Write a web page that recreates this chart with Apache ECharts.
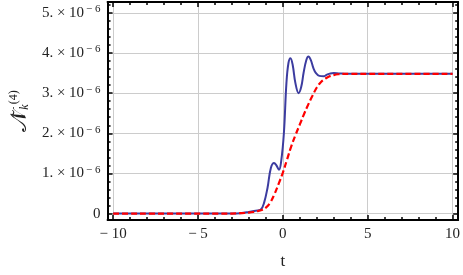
<!DOCTYPE html>
<html><head><meta charset="utf-8">
<script src="https://cdn.jsdelivr.net/npm/echarts@6/dist/echarts.min.js"></script>
<style>html,body{margin:0;padding:0;background:#fff}#c{width:463px;height:275px}</style>
</head><body><div id="c"></div>
<script>
// values in units of 1e-6
const tBlue = [-10, -3, -2.5, -2, -1.6, -1.3, -1.1, -0.9, -0.71, -0.52, -0.38, -0.23, -0.1, 0.06, 0.21, 0.33, 0.45, 0.58, 0.74, 0.93, 1.08, 1.22, 1.38, 1.51, 1.65, 1.80, 1.95, 2.15, 2.4, 2.6, 2.8, 3.0, 3.3, 3.8, 5, 10];
const vBlue = [0, 0, 0.01, 0.04, 0.07, 0.1, 0.28, 0.65, 1.13, 1.26, 1.2, 1.09, 1.3, 2.0, 3.25, 3.75, 3.87, 3.7, 3.25, 3.0, 3.15, 3.5, 3.82, 3.91, 3.82, 3.62, 3.5, 3.43, 3.42, 3.46, 3.49, 3.5, 3.49, 3.48, 3.48, 3.48];
const tRed = [-10, -3, -2.5, -2.25, -2, -1.75, -1.5, -1.25, -1, -0.75, -0.5, -0.25, 0, 0.25, 0.5, 0.75, 1, 1.25, 1.5, 1.75, 2, 2.25, 2.5, 2.75, 3, 3.25, 3.5, 4, 5, 10];
const vRed = [0, 0, 0.01, 0.015, 0.025, 0.04, 0.06, 0.09, 0.15, 0.27, 0.48, 0.74, 1.02, 1.35, 1.68, 1.96, 2.22, 2.48, 2.72, 2.94, 3.14, 3.28, 3.36, 3.42, 3.45, 3.47, 3.48, 3.48, 3.48, 3.48];
const xMajorTicks = [-10, -5, 0, 5, 10];
const xMinorTicks = [-10, -9, -8, -7, -6, -5, -4, -3, -2, -1, 0, 1, 2, 3, 4, 5, 6, 7, 8, 9, 10];
const yMajorTicks = [0, 1, 2, 3, 4, 5];
const yMinorTicks = [0, 0.2, 0.4, 0.6, 0.8, 1, 1.2, 1.4, 1.6, 1.8, 2, 2.2, 2.4, 2.6, 2.8, 3, 3.2, 3.4, 3.6, 3.8, 4, 4.2, 4.4, 4.6, 4.8, 5, 5.2];
const yExponent = '− 6';
const xName = 't';

const FONT = 'Liberation Serif';
const TXT = '#222';
const X_RANGE = [-10.33, 10.33];
const Y_RANGE = [-0.16, 5.27];

function xAxis(position, ticks, len, major) {
  return {
    type: 'value', position, min: X_RANGE[0], max: X_RANGE[1], gridIndex: 0,
    name: (major && position === 'bottom') ? xName : '',
    nameLocation: 'middle', nameGap: 33,
    nameTextStyle: {fontFamily: FONT, fontSize: 17, color: TXT},
    axisLine: {show: major, onZero: false, lineStyle: {color: '#000', width: 2}},
    axisTick: {show: true, inside: true, length: len, customValues: ticks, lineStyle: {color: '#000', width: 1.5}},
    axisLabel: {show: major && position === 'bottom', customValues: xMajorTicks, margin: 7,
      fontFamily: FONT, fontSize: 15, color: TXT,
      formatter: v => (v < 0 ? '− ' + Math.abs(v) : String(v))},
    splitLine: {show: major && position === 'bottom', lineStyle: {color: '#cccccc', width: 1}}
  };
}
function yAxis(position, ticks, len, major) {
  return {
    type: 'value', position, min: Y_RANGE[0], max: Y_RANGE[1], gridIndex: 0,
    name: (major && position === 'left') ? '{n|𝒩̃}{k|k}{s|(4)}' : '',
    nameLocation: 'middle', nameGap: 76, nameRotate: 90,
    nameTextStyle: {fontFamily: FONT, color: TXT, rich: {
      n: {fontFamily: FONT, fontSize: 23, color: TXT},
      k: {fontFamily: FONT, fontSize: 12, fontStyle: 'italic', color: TXT, verticalAlign: 'bottom', padding: [10, 0, 0, 0]},
      s: {fontFamily: FONT, fontSize: 12, color: TXT, verticalAlign: 'top', padding: [0, 0, 10, 0]}
    }},
    axisLine: {show: major, onZero: false, lineStyle: {color: '#000', width: 2}},
    axisTick: {show: true, inside: true, length: len, customValues: ticks, lineStyle: {color: '#000', width: 1.5}},
    axisLabel: {show: major && position === 'left', customValues: yMajorTicks, margin: 7,
      fontFamily: FONT, fontSize: 15, color: TXT,
      formatter: v => (v === 0 ? '0' : '{a|' + v + '. × 10}{b|' + yExponent + '}'),
      rich: {a: {fontFamily: FONT, fontSize: 15, color: TXT},
             b: {fontFamily: FONT, fontSize: 11, color: TXT, verticalAlign: 'top', padding: [0, 0, 7, 2]}}},
    splitLine: {show: major && position === 'left', lineStyle: {color: '#cccccc', width: 1}}
  };
}

const chart = echarts.init(document.getElementById('c'), null, {renderer: 'canvas'});
chart.setOption({
  animation: false,
  backgroundColor: '#fff',
  grid: {left: 104, right: 3, top: 2, bottom: 54},
  xAxis: [xAxis('bottom', xMajorTicks, 5, true), xAxis('bottom', xMinorTicks, 3, false),
          xAxis('top', xMajorTicks, 5, true), xAxis('top', xMinorTicks, 3, false)],
  yAxis: [yAxis('left', yMajorTicks, 5, true), yAxis('left', yMinorTicks, 3, false),
          yAxis('right', yMajorTicks, 5, true), yAxis('right', yMinorTicks, 3, false)],
  series: [
    {type: 'line', xAxisIndex: 0, yAxisIndex: 0, data: tBlue.map((t, i) => [t, vBlue[i]]),
     smooth: 0.4, symbol: 'none', lineStyle: {color: '#3c3ca0', width: 2}, z: 3},
    {type: 'line', xAxisIndex: 0, yAxisIndex: 0, data: tRed.map((t, i) => [t, vRed[i]]),
     smooth: 0.4, symbol: 'none', lineStyle: {color: '#ff0000', width: 2.2, type: [6, 3]}, z: 4}
  ]
});
</script></body></html>
